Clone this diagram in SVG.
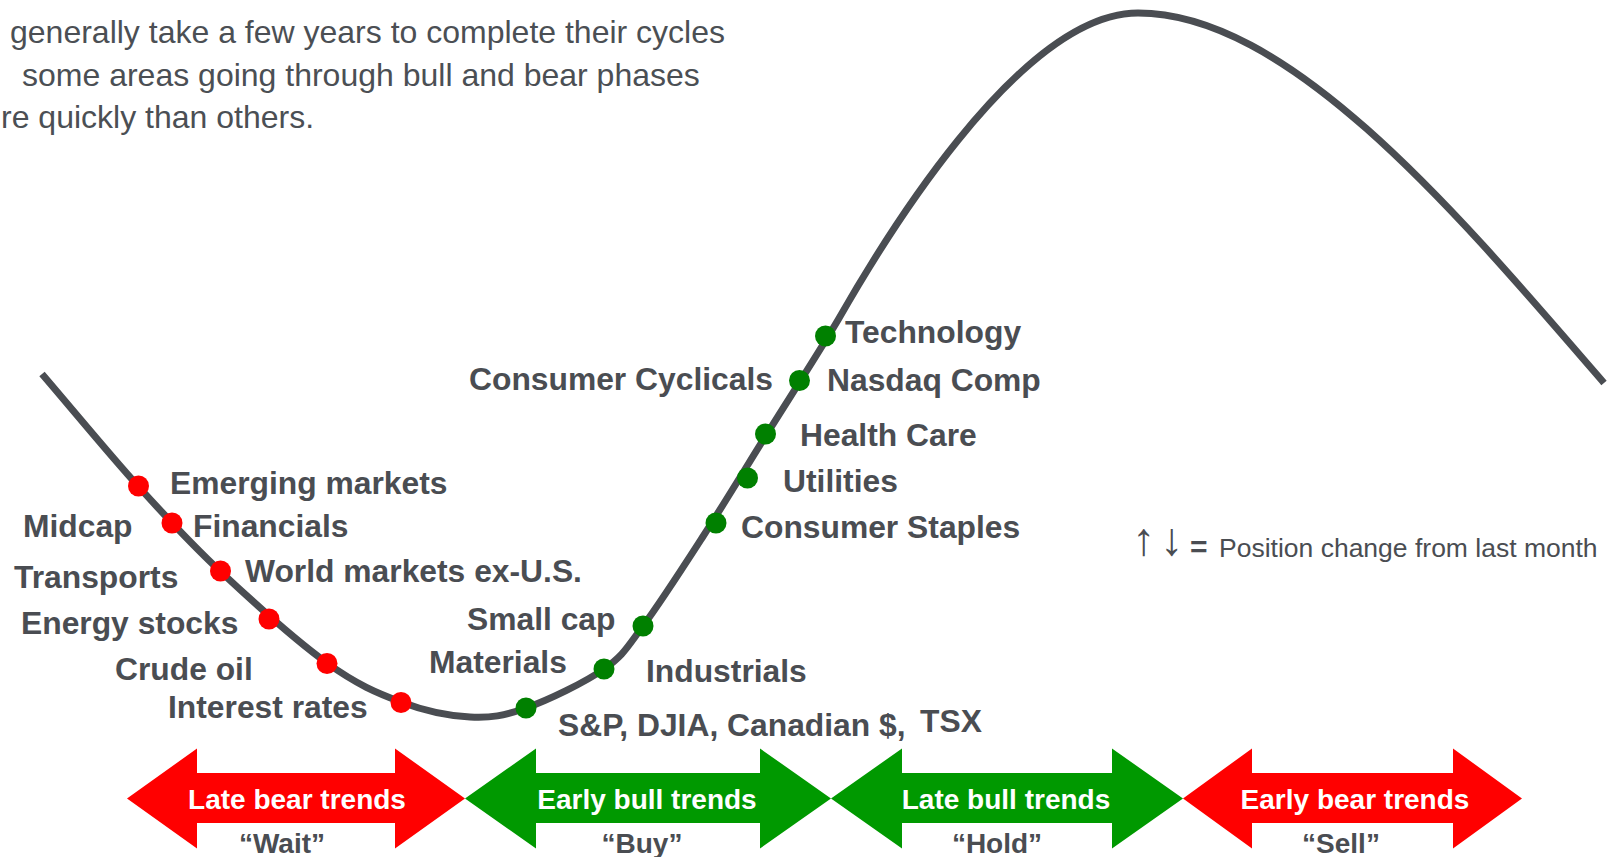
<svg xmlns="http://www.w3.org/2000/svg" width="1608" height="857" viewBox="0 0 1608 857">
<defs>
<style>
.intro{font-family:"Liberation Sans",Arial,sans-serif;font-size:32px;fill:#4b4f54}
.lbl{font-family:"Liberation Sans",Arial,sans-serif;font-size:31.8px;font-weight:bold;fill:#4a4d52}
.curve{fill:none;stroke:#4a4d52;stroke-width:7;stroke-linecap:butt;stroke-linejoin:round}
.red{fill:#ff0000}
.grn{fill:#008000}
.phase{font-family:"Liberation Sans",Arial,sans-serif;font-size:28px;font-weight:bold;fill:#ffffff;text-anchor:middle}
.sub{font-family:"Liberation Sans",Arial,sans-serif;font-size:28px;font-weight:bold;fill:#4a4d52;text-anchor:middle}
.leg{font-family:"Liberation Sans",Arial,sans-serif;font-size:26.5px;fill:#4a4d52}
.arrow{font-family:"Liberation Sans",Arial,sans-serif;font-size:46px;fill:#4a4d52;text-anchor:middle}
.arrR{fill:#ff0000}
.arrG{fill:#009900}
</style>
</defs>
<rect width="1608" height="857" fill="#ffffff"/>

<g id="intro">
<text class="intro" x="10" y="43">generally take a few years to complete their cycles</text>
<text class="intro" x="22" y="86">some areas going through bull and bear phases</text>
<text class="intro" x="1" y="128">re quickly than others.</text>
</g>

<g id="connectors">
<path class="curve" d="M42,374 C74,411.3 108.3,453.2 138,486 C167.7,518.8 188.5,541.5 220,571 C251.5,600.5 296.8,641.2 327,663 C357.2,684.8 377.2,693 401,702 C424.8,711 449.2,716 470,717 C490.8,718 503.7,716 526,708 C548.3,700 584.5,682.7 604,669 C623.5,655.3 626.7,647.8 643,626 C659.3,604.2 680.8,570.8 702,538 C723.2,505.2 747.3,465.3 770,429 C792.7,392.7 815.8,357.3 838,320 C878,250 1018,13 1138,13 C1288,13 1454,209 1604,383"/>
</g>

<g id="node-emerging"><circle class="red" cx="138.5" cy="486" r="10.5"/><text class="lbl" x="170" y="494">Emerging markets</text></g>
<g id="node-midcap"><text class="lbl" x="23" y="537">Midcap</text></g>
<g id="node-financials"><circle class="red" cx="172" cy="523" r="10.5"/><text class="lbl" x="193" y="537">Financials</text></g>
<g id="node-transports"><text class="lbl" x="14" y="588">Transports</text></g>
<g id="node-world"><circle class="red" cx="220.5" cy="571" r="10.5"/><text class="lbl" x="245" y="582">World markets ex-U.S.</text></g>
<g id="node-energy"><circle class="red" cx="269" cy="619" r="10.5"/><text class="lbl" x="21" y="634">Energy stocks</text></g>
<g id="node-crude"><circle class="red" cx="327" cy="663.5" r="10.5"/><text class="lbl" x="115" y="680">Crude oil</text></g>
<g id="node-interest"><circle class="red" cx="401" cy="702.5" r="10.5"/><text class="lbl" x="168" y="718">Interest rates</text></g>

<g id="node-sp"><circle class="grn" cx="526" cy="708" r="10.5"/><text class="lbl" x="558" y="736">S&amp;P, DJIA, Canadian $,</text><text class="lbl" x="920" y="732">TSX</text></g>
<g id="node-materials"><circle class="grn" cx="604" cy="669" r="10.5"/><text class="lbl" x="429" y="673">Materials</text></g>
<g id="node-industrials"><text class="lbl" x="646" y="682">Industrials</text></g>
<g id="node-smallcap"><circle class="grn" cx="643" cy="626" r="10.5"/><text class="lbl" x="467" y="630">Small cap</text></g>
<g id="node-staples"><circle class="grn" cx="716" cy="523" r="10.5"/><text class="lbl" x="741" y="538">Consumer Staples</text></g>
<g id="node-utilities"><circle class="grn" cx="747.5" cy="478" r="10.5"/><text class="lbl" x="783" y="492">Utilities</text></g>
<g id="node-health"><circle class="grn" cx="765.5" cy="434" r="10.5"/><text class="lbl" x="800" y="446">Health Care</text></g>
<g id="node-nasdaq"><circle class="grn" cx="799.5" cy="380.5" r="10.5"/><text class="lbl" x="827" y="391">Nasdaq Comp</text></g>
<g id="node-cyclicals"><text class="lbl" x="469" y="390">Consumer Cyclicals</text></g>
<g id="node-technology"><circle class="grn" cx="825.5" cy="336" r="10.5"/><text class="lbl" x="845" y="343">Technology</text></g>

<g id="legend">
<text class="arrow" x="1143.5" y="555">↑</text>
<text class="arrow" x="1171.5" y="555">↓</text>
<text class="leg" x="1190" y="557" style="font-weight:bold;font-size:30px">=</text>
<text class="leg" x="1219" y="557">Position change from last month</text>
</g>

<g id="phase-late-bear">
<polygon class="arrR" points="127,798.5 197,748.5 197,773 395,773 395,748.5 465,798.5 395,848.5 395,823 197,823 197,848.5"/>
<text class="phase" x="297" y="809">Late bear trends</text>
<text class="sub" x="282" y="853">“Wait”</text>
</g>
<g id="phase-early-bull">
<polygon class="arrG" points="465,798.5 536,748.5 536,773 760,773 760,748.5 831,798.5 760,848.5 760,823 536,823 536,848.5"/>
<text class="phase" x="647" y="809">Early bull trends</text>
<text class="sub" x="642" y="853">“Buy”</text>
</g>
<g id="phase-late-bull">
<polygon class="arrG" points="831,798.5 902,748.5 902,773 1112,773 1112,748.5 1183,798.5 1112,848.5 1112,823 902,823 902,848.5"/>
<text class="phase" x="1006" y="809">Late bull trends</text>
<text class="sub" x="997" y="853">“Hold”</text>
</g>
<g id="phase-early-bear">
<polygon class="arrR" points="1183,798.5 1252,748.5 1252,773 1453,773 1453,748.5 1522,798.5 1453,848.5 1453,823 1252,823 1252,848.5"/>
<text class="phase" x="1355" y="809">Early bear trends</text>
<text class="sub" x="1341" y="853">“Sell”</text>
</g>
</svg>
